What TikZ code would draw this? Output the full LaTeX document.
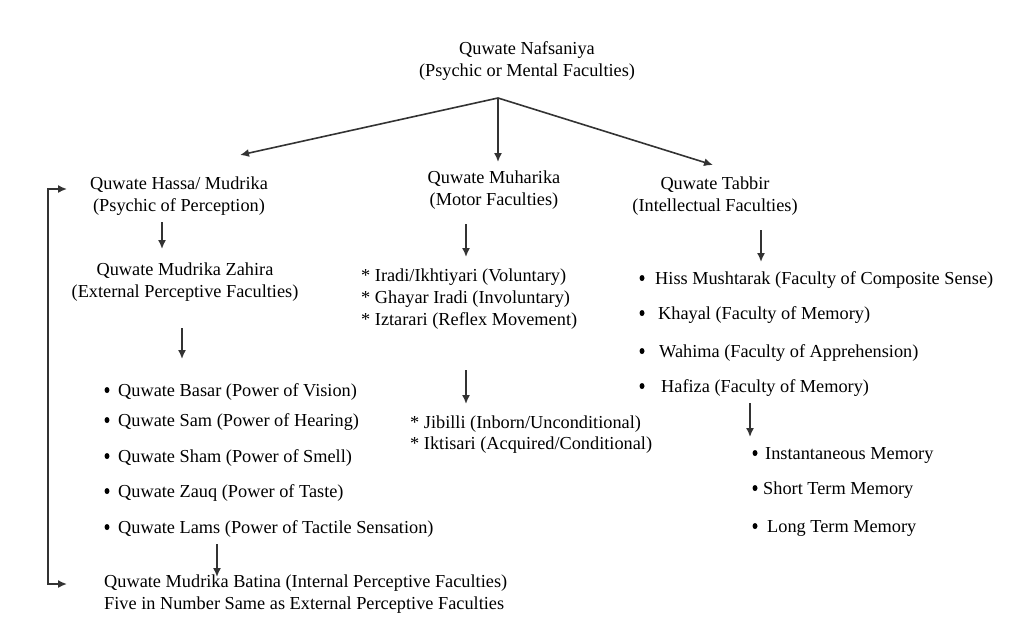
\documentclass[tikz,border=0pt]{standalone}
\usepackage{fontspec}
\setmainfont{Liberation Serif}
\newfontfamily\tnr{Liberation Serif}
\usetikzlibrary{arrows.meta,shapes.geometric}
\begin{document}
\begin{tikzpicture}[x=1pt,y=-1pt,
  txt/.style={inner sep=0pt,align=center,font=\tnr\fontsize{18.3}{22.5}\selectfont},
  item/.style={inner sep=0pt,anchor=west,font=\tnr\fontsize{18.3}{22.5}\selectfont},
  dot/.style={ellipse,fill=black,inner sep=0pt,minimum width=5pt,minimum height=6pt},
  arr/.style={draw=black!80,line width=1.6pt,-{Latex[length=9pt,width=8pt]}},
  arrboth/.style={draw=black!80,line width=1.6pt,{Latex[length=9pt,width=8pt]}-{Latex[length=9pt,width=8pt]}}]
\useasboundingbox (0,0) rectangle (1030,619);
% top
\node[txt] (top) at (527,61) {Quwate Nafsaniya\\(Psychic or Mental Faculties)};
\coordinate (fan) at (498,98);
% level 2
\node[txt] (hassa) at (179,196) {Quwate Hassa/ Mudrika\\(Psychic of Perception)};
\node[txt] (muh) at (494,190) {Quwate Muharika\\(Motor Faculties)};
\node[txt] (tab) at (715,196) {Quwate Tabbir\\(Intellectual Faculties)};
\coordinate (tH) at (240,155);
\coordinate (tM) at (498,162);
\coordinate (tT) at (713,165);
\draw[arr] (fan) -- (tH);
\draw[arr] (fan) -- (tM);
\draw[arr] (fan) -- (tT);
% left branch
\node[txt] (zahira) at (185,282) {Quwate Mudrika Zahira\\(External Perceptive Faculties)};
\coordinate (a1s) at (162,222); \coordinate (a1e) at (162,249);
\draw[arr] (a1s) -- (a1e);
\coordinate (a2s) at (182,328); \coordinate (a2e) at (182,359);
\draw[arr] (a2s) -- (a2e);
\node[dot] (b1) at (107,390) {};
\node[item] (l1) at (118,392) {Quwate Basar (Power of Vision)};
\node[dot] (b2) at (107,420) {};
\node[item] (l2) at (118,422) {Quwate Sam (Power of Hearing)};
\node[dot] (b3) at (107,456) {};
\node[item] (l3) at (118,458) {Quwate Sham (Power of Smell)};
\node[dot] (b4) at (107,491) {};
\node[item] (l4) at (118,493) {Quwate Zauq (Power of Taste)};
\node[dot] (b5) at (107,527) {};
\node[item] (l5) at (118,529) {Quwate Lams (Power of Tactile Sensation)};
\coordinate (a3s) at (217,544); \coordinate (a3e) at (217,577);
\draw[arr] (a3s) -- (a3e);
\node[item,align=left] (batina) at (104,594) {Quwate Mudrika Batina (Internal Perceptive Faculties)\\Five in Number Same as External Perceptive Faculties};
% loop
\coordinate (lpB) at (67,584);
\coordinate (lpT) at (67,189);
\draw[arrboth] (lpB) -- (48,584) -- (48,189) -- (lpT);
% middle branch
\coordinate (a4s) at (466,224); \coordinate (a4e) at (466,257);
\draw[arr] (a4s) -- (a4e);
\node[item] (m1) at (361,277) {* Iradi/Ikhtiyari (Voluntary)};
\node[item] (m2) at (361,299) {* Ghayar Iradi (Involuntary)};
\node[item] (m3) at (361,321) {* Iztarari (Reflex Movement)};
\coordinate (a5s) at (466,370); \coordinate (a5e) at (466,404);
\draw[arr] (a5s) -- (a5e);
\node[item] (m4) at (410,424) {* Jibilli (Inborn/Unconditional)};
\node[item] (m5) at (410,445) {* Iktisari (Acquired/Conditional)};
% right branch
\coordinate (a6s) at (761,230); \coordinate (a6e) at (761,262);
\draw[arr] (a6s) -- (a6e);
\node[dot] (r1d) at (642,278) {};
\node[item] (r1) at (655,280) {Hiss Mushtarak (Faculty of Composite Sense)};
\node[dot] (r2d) at (642,313) {};
\node[item] (r2) at (658,315) {Khayal (Faculty of Memory)};
\node[dot] (r3d) at (642,351) {};
\node[item] (r3) at (659,353) {Wahima (Faculty of Apprehension)};
\node[dot] (r4d) at (642,386) {};
\node[item] (r4) at (661,388) {Hafiza (Faculty of Memory)};
\coordinate (a7s) at (750,403); \coordinate (a7e) at (750,437);
\draw[arr] (a7s) -- (a7e);
\node[dot] (s1d) at (755,453) {};
\node[item] (s1) at (765,455) {Instantaneous Memory};
\node[dot] (s2d) at (755,488) {};
\node[item] (s2) at (763,490) {Short Term Memory};
\node[dot] (s3d) at (755,526) {};
\node[item] (s3) at (767,528) {Long Term Memory};
\end{tikzpicture}
\end{document}
